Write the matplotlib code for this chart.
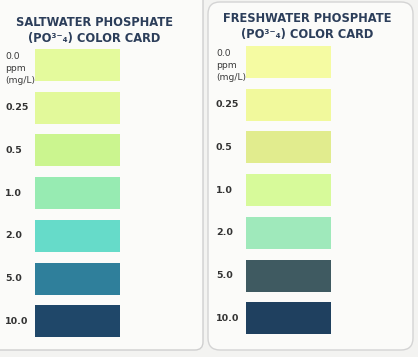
"""
Phosphate colour cards (saltwater and freshwater) redrawn with matplotlib.
"""

import matplotlib
matplotlib.use('Agg')
import matplotlib.pyplot as plt
from matplotlib.patches import FancyBboxPatch

# Concentration labels (ppm) shared by both cards
levels = ['0.0', '0.25', '0.5', '1.0', '2.0', '5.0', '10.0']

# Swatch colours
salt_colors = ['#e4fa9c', '#e2f99a', '#cbf58f', '#97ebb2', '#66dbc9', '#2f7f9b', '#1f4769']
fresh_colors = ['#f5fba2', '#f1f99c', '#e1ec8e', '#d7fa9a', '#9fe9bb', '#3f5a61', '#1f405f']

titles = ['SALTWATER PHOSPHATE', 'FRESHWATER PHOSPHATE']
subtitle = '(PO\u00b3\u207b\u2084) COLOR CARD'


def draw_card(ax, top, colors, title, title_x, title_y, label_x, sw_left, sw_width):
    spacing = 42.7
    height = 32
    tops = [top + i * spacing for i in range(len(colors))]
    ax.bar([sw_left] * len(colors), [height] * len(colors), bottom=tops,
           width=sw_width, align='edge', color=colors, linewidth=0, zorder=3)

    for i, lab in enumerate(levels):
        yc = tops[i] + height / 2
        if i == 0:
            ax.text(label_x, tops[i] + 3, '0.0\nppm\n(mg/L)', fontsize=6.6, color='#3a3a3a',
                    va='top', ha='left', linespacing=1.4, zorder=4)
        else:
            ax.text(label_x, yc, lab, fontsize=6.8, color='#333333', fontweight='bold',
                    va='center', ha='left', zorder=4)

    ax.text(title_x, title_y, title + '\n' + subtitle, fontsize=8.3, fontweight='bold',
            color='#2c3e5a', ha='center', va='top', linespacing=1.3, zorder=4)


def main():
    fig = plt.figure(figsize=(4.18, 3.57), dpi=100)
    fig.patch.set_facecolor('#f3f3f1')
    ax = fig.add_axes([0, 0, 1, 1])
    ax.set_xlim(0, 418)
    ax.set_ylim(357, 0)
    ax.axis('off')

    # card backgrounds
    left = FancyBboxPatch((-10, -10), 213, 360, boxstyle='round,pad=0,rounding_size=8',
                          facecolor='#fbfbf9', edgecolor='#cfcfcf', linewidth=1.0, zorder=1)
    right = FancyBboxPatch((208, 2), 205, 348, boxstyle='round,pad=0,rounding_size=12',
                           facecolor='#fbfbf9', edgecolor='#d4d4d4', linewidth=1.0, zorder=1)
    ax.add_patch(left)
    ax.add_patch(right)

    draw_card(ax, 49, salt_colors, titles[0], 94, 16, 5, 35, 85)
    draw_card(ax, 46, fresh_colors, titles[1], 307, 12, 216, 246, 85)

    fig.savefig('out.png', dpi=100, facecolor=fig.get_facecolor())


if __name__ == '__main__':
    main()
